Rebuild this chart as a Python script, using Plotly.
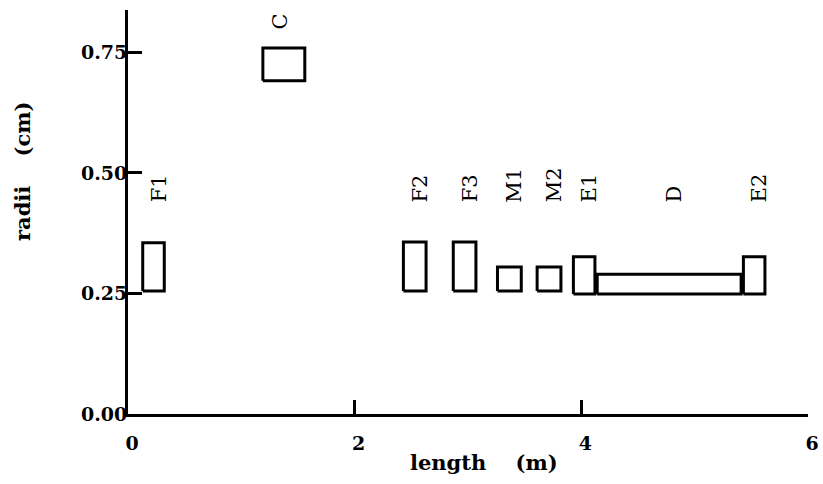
import plotly.graph_objects as go

# Component outlines: name, x start/end (m), radius bottom/top (cm)
names = ["F1", "C", "F2", "F3", "M1", "M2", "E1", "D", "E2"]
x_start = [0.13, 1.19, 2.43, 2.87, 3.26, 3.61, 3.93, 4.14, 5.43]
x_end = [0.32, 1.56, 2.63, 3.07, 3.47, 3.82, 4.12, 5.41, 5.62]
r_low = [0.255, 0.691, 0.255, 0.255, 0.255, 0.255, 0.249, 0.249, 0.249]
r_high = [0.355, 0.759, 0.357, 0.357, 0.305, 0.305, 0.326, 0.290, 0.326]

x_ticks = [0, 2, 4, 6]
x_ticklabels = ["0", "2", "4", "6"]
y_ticks = [0.0, 0.25, 0.5, 0.75]
y_ticklabels = ["0.00", "0.25", "0.50", "0.75"]

FONT = "DejaVu Serif"

fig = go.Figure()
for n, x0, x1, y0, y1 in zip(names, x_start, x_end, r_low, r_high):
    fig.add_trace(go.Scatter(
        x=[x0, x1, x1, x0, x0], y=[y0, y0, y1, y1, y0],
        mode="lines", line=dict(color="black", width=3),
        hoverinfo="skip", showlegend=False))
    upper = y1 > 0.5
    fig.add_annotation(
        x=(x0 + x1) / 2, y=0.793 if upper else 0.434,
        text=n, textangle=-90, showarrow=False,
        xanchor="center", yanchor="bottom",
        xshift=-4 if upper else 5,
        font=dict(family=FONT, size=21, color="black"))

fig.add_annotation(
    xref="paper", yref="paper", x=(484 - 128) / 680, y=-(462 - 414) / 404,
    text="<b>length\u00a0\u00a0\u00a0\u00a0(m)</b>", showarrow=False,
    xanchor="center", yanchor="middle",
    font=dict(family=FONT, size=21, color="black"))
fig.add_annotation(
    xref="paper", yref="paper", x=-(128 - 22) / 680, y=(414 - 172) / 404,
    text="<b>radii\u00a0\u00a0\u00a0\u00a0(cm)</b>", showarrow=False,
    textangle=-90, xanchor="center", yanchor="middle",
    font=dict(family=FONT, size=21, color="black"))

fig.update_layout(
    width=823, height=484,
    margin=dict(l=128, r=15, t=10, b=70, autoexpand=False),
    plot_bgcolor="white", paper_bgcolor="white",
    font=dict(family=FONT, color="black"),
)
fig.update_xaxes(
    range=[0, 6], showgrid=False, zeroline=False, automargin=False,
    showline=True, linecolor="black", linewidth=3,
    tickmode="array", tickvals=x_ticks, ticktext=x_ticklabels,
    ticks="", ticklabelshift=4, ticklabelstandoff=10,
    tickfont=dict(family=FONT, size=19, color="black", weight="bold"),
    minor=dict(tickmode="array", tickvals=[2, 4], ticks="inside",
               ticklen=14, tickwidth=3, tickcolor="black"),
)
fig.update_yaxes(
    range=[0, 0.838], showgrid=False, zeroline=False, automargin=False,
    showline=True, linecolor="black", linewidth=3,
    tickmode="array", tickvals=y_ticks, ticktext=y_ticklabels,
    ticks="", ticklabelstandoff=-6,
    tickfont=dict(family=FONT, size=19, color="black", weight="bold"),
    minor=dict(tickmode="array", tickvals=[0.25, 0.5, 0.75], ticks="inside",
               ticklen=14, tickwidth=3, tickcolor="black"),
)

fig.write_html("out.html", config={"displayModeBar": False},
               post_script="document.body.style.margin='0';")
